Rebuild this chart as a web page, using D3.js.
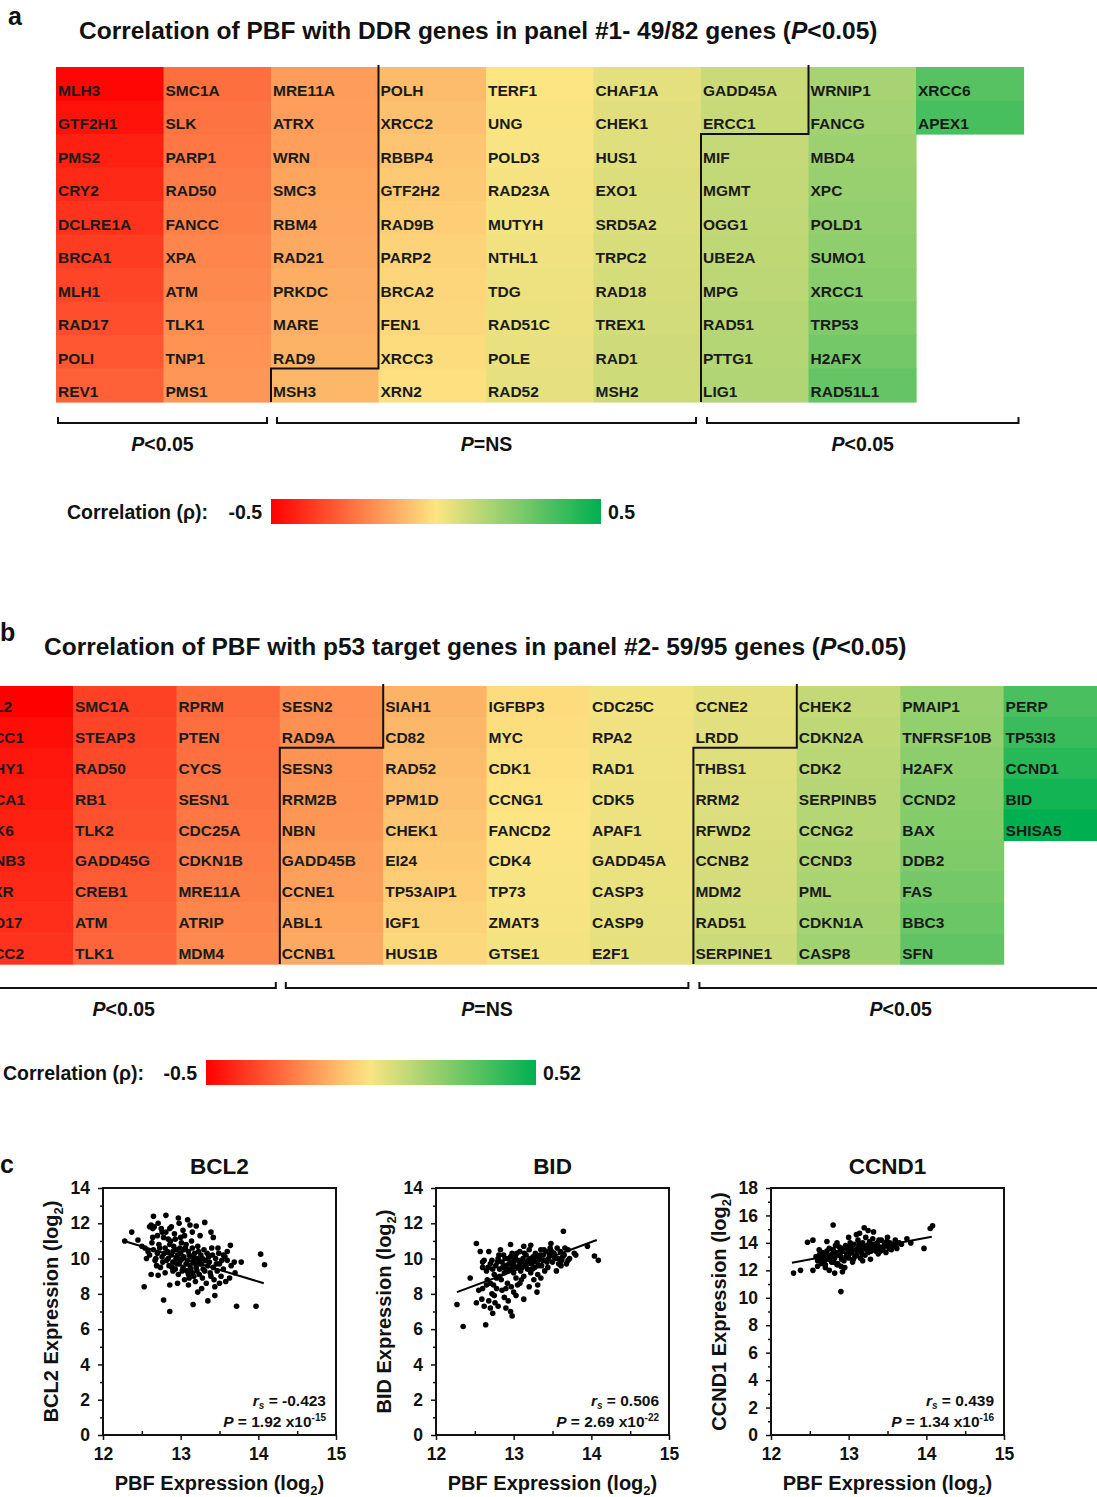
<!DOCTYPE html>
<html>
<head>
<meta charset="utf-8">
<script src="https://cdn.jsdelivr.net/npm/d3@7"></script>
<style>
  body { margin: 0; background: #fff; }
  svg { display: block; font-family: "Liberation Sans", Arial, sans-serif; font-weight: bold; }
</style>
</head>
<body>
<script>
// ---- panel a: DDR genes (column-major, sorted by correlation) ----
const ddrGenes = [
  'MLH3', 'GTF2H1', 'PMS2', 'CRY2', 'DCLRE1A', 'BRCA1', 'MLH1', 'RAD17', 'POLI', 'REV1',
  'SMC1A', 'SLK', 'PARP1', 'RAD50', 'FANCC', 'XPA', 'ATM', 'TLK1', 'TNP1', 'PMS1',
  'MRE11A', 'ATRX', 'WRN', 'SMC3', 'RBM4', 'RAD21', 'PRKDC', 'MARE', 'RAD9', 'MSH3',
  'POLH', 'XRCC2', 'RBBP4', 'GTF2H2', 'RAD9B', 'PARP2', 'BRCA2', 'FEN1', 'XRCC3', 'XRN2',
  'TERF1', 'UNG', 'POLD3', 'RAD23A', 'MUTYH', 'NTHL1', 'TDG', 'RAD51C', 'POLE', 'RAD52',
  'CHAF1A', 'CHEK1', 'HUS1', 'EXO1', 'SRD5A2', 'TRPC2', 'RAD18', 'TREX1', 'RAD1', 'MSH2',
  'GADD45A', 'ERCC1', 'MIF', 'MGMT', 'OGG1', 'UBE2A', 'MPG', 'RAD51', 'PTTG1', 'LIG1',
  'WRNIP1', 'FANCG', 'MBD4', 'XPC', 'POLD1', 'SUMO1', 'XRCC1', 'TRP53', 'H2AFX', 'RAD51L1',
  'XRCC6', 'APEX1'
];
const ddrRho = [
  -0.49, -0.46, -0.43, -0.41, -0.39, -0.37, -0.35, -0.33, -0.31, -0.29,
  -0.26, -0.25, -0.24, -0.23, -0.22, -0.21, -0.2, -0.19, -0.18, -0.17,
  -0.16, -0.155, -0.15, -0.14, -0.135, -0.13, -0.12, -0.115, -0.11, -0.1,
  -0.09, -0.08, -0.07, -0.06, -0.05, -0.04, -0.035, -0.03, -0.02, -0.01,
  0.0, 0.005, 0.01, 0.015, 0.02, 0.025, 0.03, 0.035, 0.04, 0.045,
  0.05, 0.055, 0.06, 0.065, 0.07, 0.075, 0.08, 0.085, 0.09, 0.095,
  0.1, 0.105, 0.11, 0.115, 0.12, 0.125, 0.13, 0.14, 0.145, 0.15,
  0.17, 0.18, 0.19, 0.2, 0.21, 0.22, 0.23, 0.25, 0.27, 0.3,
  0.33, 0.36
];
const ddrNsStart = 29;   // MSH3
const ddrPosStart = 62;  // MIF

// ---- panel b: p53 target genes ----
const p53Genes = [
  'BCL2', 'ERCC1', 'RCHY1', 'BRCA1', 'CDK6', 'CCNB3', 'FDXR', 'RAD17', 'ERCC2',
  'SMC1A', 'STEAP3', 'RAD50', 'RB1', 'TLK2', 'GADD45G', 'CREB1', 'ATM', 'TLK1',
  'RPRM', 'PTEN', 'CYCS', 'SESN1', 'CDC25A', 'CDKN1B', 'MRE11A', 'ATRIP', 'MDM4',
  'SESN2', 'RAD9A', 'SESN3', 'RRM2B', 'NBN', 'GADD45B', 'CCNE1', 'ABL1', 'CCNB1',
  'SIAH1', 'CD82', 'RAD52', 'PPM1D', 'CHEK1', 'EI24', 'TP53AIP1', 'IGF1', 'HUS1B',
  'IGFBP3', 'MYC', 'CDK1', 'CCNG1', 'FANCD2', 'CDK4', 'TP73', 'ZMAT3', 'GTSE1',
  'CDC25C', 'RPA2', 'RAD1', 'CDK5', 'APAF1', 'GADD45A', 'CASP3', 'CASP9', 'E2F1',
  'CCNE2', 'LRDD', 'THBS1', 'RRM2', 'RFWD2', 'CCNB2', 'MDM2', 'RAD51', 'SERPINE1',
  'CHEK2', 'CDKN2A', 'CDK2', 'SERPINB5', 'CCNG2', 'CCND3', 'PML', 'CDKN1A', 'CASP8',
  'PMAIP1', 'TNFRSF10B', 'H2AFX', 'CCND2', 'BAX', 'DDB2', 'FAS', 'BBC3', 'SFN',
  'PERP', 'TP53I3', 'CCND1', 'BID', 'SHISA5'
];
const p53Rho = [
  -0.5, -0.47, -0.45, -0.44, -0.43, -0.42, -0.41, -0.4, -0.39,
  -0.36, -0.35, -0.34, -0.33, -0.32, -0.31, -0.3, -0.29, -0.28,
  -0.27, -0.26, -0.255, -0.25, -0.24, -0.23, -0.22, -0.21, -0.2,
  -0.19, -0.185, -0.18, -0.175, -0.17, -0.16, -0.15, -0.14, -0.13,
  -0.11, -0.1, -0.09, -0.08, -0.07, -0.06, -0.05, -0.04, -0.03,
  -0.02, -0.015, -0.01, -0.005, 0.0, 0.005, 0.01, 0.015, 0.02,
  0.022, 0.025, 0.028, 0.03, 0.033, 0.036, 0.04, 0.043, 0.046,
  0.05, 0.055, 0.06, 0.065, 0.07, 0.08, 0.085, 0.09, 0.1,
  0.12, 0.13, 0.14, 0.145, 0.15, 0.16, 0.17, 0.18, 0.19,
  0.21, 0.22, 0.23, 0.24, 0.25, 0.26, 0.28, 0.3, 0.32,
  0.37, 0.4, 0.44, 0.48, 0.52
];
const p53NsStart = 29;   // SESN3
const p53PosStart = 65;  // THBS1

const colorStops = ['#ff0000', '#fde583', '#00b050'];

// ---- panel c: scatter data [PBF log2, gene log2] ----
const bcl2Points = [
  [12.28, 11.0], [12.37, 11.5], [12.45, 11.05], [12.5, 10.7], [12.53, 8.4], [12.54, 10.6], [12.56, 10.0],
  [12.6, 11.8], [12.62, 11.9], [12.64, 11.7], [12.65, 12.4], [12.66, 11.8], [12.69, 9.6], [12.71, 9.05],
  [12.71, 12.0], [12.75, 11.7], [12.78, 7.65], [12.81, 12.45], [12.84, 11.1], [12.86, 11.7], [12.86, 8.5],
  [12.86, 7.0], [12.9, 9.3], [12.97, 12.3], [12.98, 12.0], [13.0, 11.2], [13.03, 11.6], [13.09, 12.2],
  [13.12, 11.9], [13.16, 7.4], [13.2, 11.85], [13.22, 8.1], [13.25, 11.3], [13.31, 12.05], [13.35, 7.6],
  [13.39, 11.5], [13.42, 11.2], [13.44, 8.4], [13.44, 7.9], [13.48, 10.6], [13.5, 8.6], [13.55, 10.2],
  [13.6, 9.9], [13.63, 8.9], [13.64, 10.75], [13.69, 9.8], [13.72, 7.3], [13.78, 9.8], [13.97, 7.3],
  [14.03, 10.25], [14.08, 9.65],
  [12.58, 10.4], [12.6, 10.2], [12.63, 10.9], [12.65, 10.5], [12.67, 9.9], [12.7, 10.3], [12.72, 10.8],
  [12.74, 9.5], [12.76, 10.1], [12.78, 11.2], [12.8, 10.6], [12.8, 9.2], [12.82, 9.9], [12.83, 10.4],
  [12.85, 9.6], [12.87, 11.0], [12.88, 10.2], [12.9, 9.8], [12.91, 10.7], [12.93, 9.4], [12.94, 10.0],
  [12.95, 10.5], [12.97, 9.1], [12.98, 9.7], [13.0, 10.3], [13.0, 9.9], [13.01, 10.9], [13.03, 9.5],
  [13.04, 10.1], [13.05, 8.8], [13.06, 10.6], [13.08, 9.3], [13.09, 9.9], [13.1, 10.4], [13.11, 8.9],
  [13.12, 9.6], [13.13, 10.1], [13.14, 11.0], [13.15, 9.2], [13.16, 9.8], [13.18, 10.3], [13.19, 8.7],
  [13.2, 9.5], [13.21, 10.0], [13.22, 10.7], [13.24, 9.1], [13.25, 9.7], [13.26, 10.2], [13.28, 8.9],
  [13.29, 9.4], [13.3, 10.5], [13.32, 9.9], [13.33, 8.6], [13.35, 9.6], [13.36, 10.1], [13.38, 9.2],
  [13.4, 10.6], [13.42, 9.5], [13.43, 8.8], [13.45, 10.0], [13.47, 9.3], [13.5, 9.7], [13.52, 9.0],
  [13.55, 9.4], [13.58, 8.7], [13.6, 10.4], [13.65, 9.6], [13.7, 9.2], [12.92, 11.4], [13.05, 11.3],
  [12.7, 11.3], [12.62, 9.1], [13.1, 8.5], [13.27, 8.3], [12.96, 8.6],
  [12.68, 10.0], [12.73, 10.6], [12.77, 9.8], [12.79, 10.3], [12.81, 11.5], [12.84, 10.0], [12.86, 10.8],
  [12.89, 9.5], [12.9, 10.4], [12.93, 11.1], [12.95, 9.7], [12.96, 10.2], [12.99, 10.6], [13.02, 9.3],
  [13.02, 10.0], [13.04, 10.5], [13.07, 9.7], [13.07, 10.8], [13.1, 9.1], [13.11, 10.2], [13.13, 9.4],
  [13.15, 10.6], [13.17, 9.0], [13.17, 10.0], [13.19, 9.7], [13.21, 9.3], [13.23, 10.4], [13.24, 9.9],
  [13.27, 9.7], [13.28, 10.0], [13.31, 9.3], [13.34, 10.3], [13.37, 9.8], [13.39, 9.0], [13.41, 10.2],
  [13.46, 9.7], [13.49, 10.3], [13.53, 9.9], [13.57, 10.1], [12.64, 11.2], [12.76, 11.5], [12.88, 11.8],
  [13.15, 11.5]
];
const bidPoints = [
  [12.27, 7.4], [12.35, 6.15], [12.44, 8.9], [12.52, 10.85], [12.52, 7.5], [12.55, 8.2], [12.57, 10.4],
  [12.59, 7.7], [12.6, 9.5], [12.62, 7.3], [12.64, 6.25], [12.65, 8.5], [12.68, 10.4], [12.68, 7.6],
  [12.7, 7.2], [12.72, 8.0], [12.73, 6.9], [12.76, 7.5], [12.78, 8.3], [12.8, 7.3], [12.82, 9.0],
  [12.85, 8.2], [12.88, 7.8], [12.9, 7.2], [12.93, 7.6], [12.96, 10.8], [12.96, 7.0], [12.98, 6.75],
  [13.0, 8.1], [13.03, 7.9], [13.08, 8.6], [13.13, 10.7], [13.13, 7.7], [13.2, 8.4], [13.22, 10.75],
  [13.3, 8.1], [13.31, 8.5], [13.35, 8.9], [13.4, 9.3], [13.48, 10.85], [13.61, 9.6], [13.64, 11.55],
  [13.7, 10.5], [13.78, 10.3], [13.8, 10.2], [13.95, 10.7], [14.04, 10.15], [14.09, 9.9],
  [12.6, 9.8], [12.65, 9.3], [12.7, 9.7], [12.72, 9.9], [12.75, 9.1], [12.77, 9.6], [12.8, 10.0],
  [12.82, 9.4], [12.84, 8.8], [12.85, 9.8], [12.87, 10.2], [12.88, 9.2], [12.9, 9.6], [12.92, 8.6],
  [12.93, 10.0], [12.95, 9.4], [12.97, 9.8], [12.98, 10.3], [13.0, 9.2], [13.0, 9.7], [13.02, 10.1],
  [13.03, 8.9], [13.05, 9.5], [13.06, 9.9], [13.08, 10.4], [13.09, 9.3], [13.1, 9.8], [13.12, 10.0],
  [13.13, 9.0], [13.15, 9.6], [13.16, 10.2], [13.18, 9.4], [13.19, 9.9], [13.2, 10.5], [13.22, 9.2],
  [13.23, 9.7], [13.25, 10.1], [13.27, 9.5], [13.28, 10.3], [13.3, 9.8], [13.31, 9.1], [13.33, 10.0],
  [13.35, 10.5], [13.36, 9.6], [13.38, 10.2], [13.4, 9.9], [13.42, 10.4], [13.44, 9.5], [13.45, 10.0],
  [13.47, 10.6], [13.5, 9.8], [13.52, 10.3], [13.55, 9.3], [13.57, 10.0], [13.6, 10.4], [13.62, 9.9],
  [13.65, 10.2], [13.68, 9.7], [13.72, 10.0], [12.83, 10.5], [12.74, 8.5], [12.97, 8.4], [13.1, 8.8],
  [12.66, 8.8], [13.26, 8.8],
  [12.62, 9.9], [12.67, 9.5], [12.73, 9.4], [12.79, 9.8], [12.81, 10.2], [12.86, 9.5], [12.89, 10.0],
  [12.91, 9.3], [12.94, 9.7], [12.96, 10.1], [12.99, 9.5], [13.01, 9.9], [13.04, 10.3], [13.07, 9.6],
  [13.11, 9.5], [13.14, 10.3], [13.17, 9.8], [13.21, 10.0], [13.24, 9.4], [13.26, 9.9], [13.29, 10.1],
  [13.32, 9.6], [13.34, 10.2], [13.37, 9.9], [13.39, 10.5], [13.43, 9.8], [13.46, 10.2], [13.49, 10.4],
  [13.53, 10.0], [13.56, 10.6], [13.58, 9.7], [13.63, 10.1], [13.66, 10.6], [13.7, 9.9], [12.7, 8.6],
  [12.78, 8.9], [12.9, 8.3], [13.05, 8.5], [12.6, 8.3], [12.75, 7.9]
];
const ccnd1Points = [
  [12.29, 11.8], [12.38, 12.0], [12.47, 14.05], [12.54, 14.2], [12.54, 12.0], [12.6, 12.3], [12.65, 12.7],
  [12.72, 14.1], [12.75, 12.0], [12.8, 15.3], [12.82, 11.8], [12.85, 12.4], [12.9, 10.45], [12.92, 11.9],
  [12.95, 12.2], [13.1, 14.6], [13.2, 15.1], [13.25, 14.9], [13.32, 14.8], [13.5, 14.4], [13.6, 14.2],
  [13.68, 13.9], [13.75, 14.3], [13.8, 14.0], [13.97, 13.6], [14.05, 15.05], [14.08, 15.25],
  [12.58, 13.0], [12.6, 12.7], [12.63, 13.2], [12.65, 12.5], [12.68, 13.0], [12.7, 12.4], [12.72, 13.4],
  [12.74, 12.8], [12.76, 13.1], [12.78, 12.6], [12.8, 13.5], [12.82, 12.9], [12.84, 13.3], [12.86, 12.5],
  [12.88, 13.7], [12.9, 13.0], [12.92, 13.4], [12.94, 12.7], [12.96, 13.8], [12.98, 13.2], [13.0, 12.9],
  [13.0, 13.6], [13.02, 14.0], [13.04, 13.3], [13.06, 12.8], [13.07, 13.9], [13.09, 13.5], [13.1, 13.1],
  [13.12, 14.2], [13.13, 13.7], [13.15, 12.9], [13.16, 13.4], [13.18, 14.0], [13.2, 13.6], [13.21, 13.1],
  [13.22, 14.4], [13.24, 13.8], [13.25, 13.3], [13.27, 14.1], [13.28, 12.8], [13.3, 13.6], [13.31, 14.3],
  [13.33, 13.9], [13.35, 13.4], [13.37, 14.0], [13.38, 13.2], [13.4, 13.7], [13.42, 14.2], [13.44, 13.5],
  [13.46, 13.9], [13.48, 13.3], [13.5, 13.8], [13.53, 14.0], [13.55, 13.5], [13.58, 13.8], [13.62, 13.6],
  [12.7, 12.2], [12.9, 12.3], [13.05, 12.6], [13.18, 12.7], [12.62, 13.5], [12.85, 14.0], [13.0, 14.4],
  [13.14, 14.7],
  [12.62, 12.9], [12.66, 13.3], [12.69, 12.7], [12.71, 13.1], [12.75, 13.6], [12.77, 12.9], [12.79, 13.2],
  [12.81, 12.6], [12.83, 13.8], [12.87, 13.1], [12.89, 13.4], [12.91, 12.8], [12.93, 13.6], [12.97, 13.0],
  [12.99, 13.5], [13.01, 13.2], [13.03, 13.8], [13.05, 13.5], [13.08, 13.0], [13.11, 13.4], [13.14, 13.9],
  [13.17, 13.2], [13.19, 13.7], [13.23, 13.5], [13.26, 13.9], [13.29, 13.4], [13.32, 13.8], [13.36, 13.6],
  [13.39, 14.2], [13.41, 13.4], [13.45, 13.7], [13.49, 14.1], [13.52, 13.6], [13.56, 13.9], [13.6, 13.8],
  [13.65, 14.0]
];
const bcl2Fit = [[12.27, 11.0], [14.07, 8.6]];
const bidFit = [[12.27, 8.1], [14.07, 11.05]];
const ccnd1Fit = [[12.27, 12.55], [14.07, 14.45]];

const W = 1097;
const H = 1497;

const svg = d3.select('body').append('svg')
  .attr('width', W)
  .attr('height', H);

function italicP(sel, rest) {
  sel.append('tspan').attr('font-style', 'italic').text('P');
  sel.append('tspan').text(rest);
}

function drawHeatmap(cfg) {
  const nCols = Math.ceil(cfg.genes.length / cfg.rows);
  const x = d3.scaleLinear().domain([0, nCols]).range([cfg.left, cfg.left + nCols * cfg.colW]);
  const y = d3.scaleLinear().domain([0, cfg.rows]).range([cfg.top, cfg.top + cfg.rows * cfg.rowH]);
  const color = d3.scaleLinear().domain(cfg.colorDomain).range(colorStops);

  const cells = cfg.genes.map((name, i) => ({
    name, rho: cfg.rho[i], col: Math.floor(i / cfg.rows), row: i % cfg.rows
  }));

  const g = svg.append('g');

  g.append('text')
    .attr('x', cfg.titleX).attr('y', cfg.titleY)
    .attr('font-size', 24.5).attr('fill', '#111')
    .call(t => {
      t.append('tspan').text(cfg.title);
      t.append('tspan').attr('font-style', 'italic').text('P');
      t.append('tspan').text('<0.05)');
    });

  g.selectAll('rect.cell').data(cells).join('rect')
    .attr('class', 'cell')
    .attr('x', d => x(d.col)).attr('y', d => y(d.row))
    .attr('width', x(1) - x(0) + 0.6).attr('height', y(1) - y(0) + 0.6)
    .attr('fill', d => color(d.rho));

  g.selectAll('text.gene').data(cells).join('text')
    .attr('class', 'gene')
    .attr('x', d => x(d.col) + 2).attr('y', d => y(d.row + 1) - 5)
    .attr('font-size', 15.5).attr('fill', '#1a1a1a')
    .text(d => d.name);

  [cfg.nsStart, cfg.posStart].forEach(k => {
    const c = Math.floor(k / cfg.rows);
    const r = k % cfg.rows;
    g.append('path')
      .attr('d', `M${x(c + 1)},${y(0) - 2}V${y(r)}H${x(c)}V${y(cfg.rows)}`)
      .attr('fill', 'none').attr('stroke', '#111').attr('stroke-width', 2);
  });

  const cNs = Math.floor(cfg.nsStart / cfg.rows);
  const cPos = Math.floor(cfg.posStart / cfg.rows);
  const brackets = [
    {a: x(0) + 2, b: x(cNs) - 4, label: '<0.05'},
    {a: x(cNs) + 6, b: x(cPos) - 5, label: '=NS'},
    {a: x(cPos) + 6, b: x(nCols) - 5, label: '<0.05'}
  ];
  g.selectAll('path.bracket').data(brackets).join('path')
    .attr('class', 'bracket')
    .attr('d', d => `M${d.a},${cfg.bracketY - 6}V${cfg.bracketY}H${d.b}V${cfg.bracketY - 6}`)
    .attr('fill', 'none').attr('stroke', '#111').attr('stroke-width', 2);
  g.selectAll('text.blabel').data(brackets).join('text')
    .attr('class', 'blabel')
    .attr('x', d => (d.a + d.b) / 2).attr('y', cfg.bracketY + 28)
    .attr('text-anchor', 'middle').attr('font-size', 19.5).attr('fill', '#111')
    .each(function(d) { italicP(d3.select(this), d.label); });

  // colour legend
  const lg = cfg.legend;
  const gradId = 'grad-' + cfg.id;
  const dmin = cfg.colorDomain[0];
  const dmax = cfg.colorDomain[cfg.colorDomain.length - 1];
  svg.append('defs').append('linearGradient').attr('id', gradId)
    .selectAll('stop').data(d3.range(0, 1.0001, 0.05)).join('stop')
    .attr('offset', t => t)
    .attr('stop-color', t => color(dmin + t * (dmax - dmin)));
  g.append('text').attr('x', lg.x).attr('y', lg.y + 20)
    .attr('font-size', 19.5).attr('fill', '#111').text('Correlation (\u03c1):');
  g.append('text').attr('x', lg.barX - 9).attr('y', lg.y + 20)
    .attr('text-anchor', 'end').attr('font-size', 19.5).attr('fill', '#111').text(String(dmin));
  g.append('rect').attr('x', lg.barX).attr('y', lg.y)
    .attr('width', lg.barW).attr('height', 25)
    .attr('fill', `url(#${gradId})`);
  g.append('text').attr('x', lg.barX + lg.barW + 7).attr('y', lg.y + 20)
    .attr('font-size', 19.5).attr('fill', '#111').text(String(dmax));
}

function drawScatter(cfg) {
  const w = 233;
  const h = 247;
  const top = 1188;
  const x = d3.scaleLinear().domain([12, 15]).range([cfg.left, cfg.left + w]);
  const y = d3.scaleLinear().domain([0, cfg.yMax]).range([top + h, top]);
  const g = svg.append('g');

  g.append('text').attr('x', cfg.left + w / 2).attr('y', top - 14)
    .attr('text-anchor', 'middle').attr('font-size', 22.5).attr('fill', '#111').text(cfg.gene);

  const yAxis = g.append('g').attr('transform', `translate(${cfg.left},0)`)
    .call(d3.axisLeft(y).tickValues(d3.range(0, cfg.yMax + 1, 2)).tickSize(5).tickSizeOuter(0).tickPadding(8));
  g.append('g').attr('transform', `translate(${cfg.left},0)`)
    .call(d3.axisLeft(y).tickValues(d3.range(1, cfg.yMax, 2)).tickSize(3).tickSizeOuter(0).tickFormat(''));
  const xAxis = g.append('g').attr('transform', `translate(0,${top + h})`)
    .call(d3.axisBottom(x).tickValues([12, 13, 14, 15]).tickSize(5).tickSizeOuter(0).tickPadding(8).tickFormat(d3.format('d')));
  g.append('g').attr('transform', `translate(0,${top + h})`)
    .call(d3.axisBottom(x).tickValues([12.5, 13.5, 14.5]).tickSize(-4).tickSizeOuter(0).tickFormat(''));
  g.selectAll('.tick line').attr('stroke', '#111').attr('stroke-width', 1.5);
  g.selectAll('.domain').attr('stroke', 'none');
  [yAxis, xAxis].forEach(a => a.selectAll('text')
    .attr('font-size', 17.5).attr('font-family', '"Liberation Sans", Arial, sans-serif')
    .attr('font-weight', 'bold').attr('fill', '#111'));

  g.append('rect').attr('x', cfg.left).attr('y', top).attr('width', w).attr('height', h)
    .attr('fill', 'none').attr('stroke', '#111').attr('stroke-width', 2);

  g.selectAll('circle').data(cfg.points).join('circle')
    .attr('cx', d => x(d[0])).attr('cy', d => y(d[1])).attr('r', 2.8).attr('fill', '#000');

  g.append('path').datum(cfg.fit)
    .attr('d', d3.line().x(d => x(d[0])).y(d => y(d[1])))
    .attr('stroke', '#000').attr('stroke-width', 2).attr('fill', 'none');

  // axis titles
  g.append('text').attr('x', cfg.left + w / 2).attr('y', top + h + 55)
    .attr('text-anchor', 'middle').attr('font-size', 20).attr('fill', '#111')
    .call(t => {
      t.append('tspan').text('PBF Expression (log');
      t.append('tspan').attr('font-size', 13).attr('dy', 5).text('2');
      t.append('tspan').attr('dy', -5).text(')');
    });
  g.append('text')
    .attr('transform', `translate(${cfg.left - 45},${top + h / 2}) rotate(-90)`)
    .attr('text-anchor', 'middle').attr('font-size', 20).attr('fill', '#111')
    .call(t => {
      t.append('tspan').text(cfg.gene + ' Expression (log');
      t.append('tspan').attr('font-size', 13).attr('dy', 5).text('2');
      t.append('tspan').attr('dy', -5).text(')');
    });

  // statistics
  g.append('text').attr('x', cfg.left + w - 10).attr('y', top + h - 29)
    .attr('text-anchor', 'end').attr('font-size', 15.5).attr('fill', '#111')
    .call(t => {
      t.append('tspan').attr('font-style', 'italic').text('r');
      t.append('tspan').attr('font-style', 'italic').attr('font-size', 10).attr('dy', 3).text('s');
      t.append('tspan').attr('dy', -3).text(' = ' + cfg.rs);
    });
  g.append('text').attr('x', cfg.left + w - 10).attr('y', top + h - 8)
    .attr('text-anchor', 'end').attr('font-size', 15.5).attr('fill', '#111')
    .call(t => {
      t.append('tspan').attr('font-style', 'italic').text('P');
      t.append('tspan').text(' = ' + cfg.p + ' x10');
      t.append('tspan').attr('font-size', 10).attr('dy', -6).text(cfg.exp);
    });
}

// panel letters
[['a', 8, 25], ['b', 0, 641], ['c', 0, 1173]].forEach(([l, px, py]) => {
  svg.append('text').attr('x', px).attr('y', py).attr('font-size', 25).attr('fill', '#111').text(l);
});

drawHeatmap({
  id: 'a', genes: ddrGenes, rho: ddrRho, rows: 10,
  left: 56, colW: 107.5, top: 67, rowH: 33.5,
  nsStart: ddrNsStart, posStart: ddrPosStart,
  colorDomain: [-0.5, 0, 0.5],
  title: 'Correlation of PBF with DDR genes in panel #1- 49/82 genes (',
  titleX: 79, titleY: 39,
  bracketY: 423,
  legend: {x: 67, y: 499, barX: 271, barW: 330}
});

drawHeatmap({
  id: 'b', genes: p53Genes, rho: p53Rho, rows: 9,
  left: -30.4, colW: 103.4, top: 686, rowH: 30.9,
  nsStart: p53NsStart, posStart: p53PosStart,
  colorDomain: [-0.5, 0, 0.52],
  title: 'Correlation of PBF with p53 target genes in panel #2- 59/95 genes (',
  titleX: 44, titleY: 655,
  bracketY: 988,
  legend: {x: 3, y: 1060, barX: 206, barW: 330}
});

drawScatter({gene: 'BCL2', left: 103, yMax: 14, points: bcl2Points, fit: bcl2Fit, rs: '-0.423', p: '1.92', exp: '-15'});
drawScatter({gene: 'BID', left: 436, yMax: 14, points: bidPoints, fit: bidFit, rs: '0.506', p: '2.69', exp: '-22'});
drawScatter({gene: 'CCND1', left: 771, yMax: 18, points: ccnd1Points, fit: ccnd1Fit, rs: '0.439', p: '1.34', exp: '-16'});
</script>
</body>
</html>
